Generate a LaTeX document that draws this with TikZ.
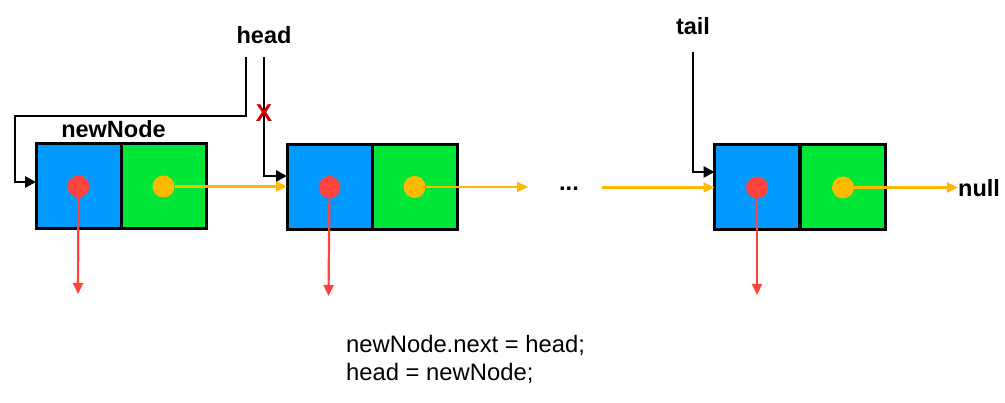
\documentclass[tikz,border=0pt]{standalone}
\usepackage{fontspec}
\setmainfont{Liberation Sans}
\usetikzlibrary{arrows.meta}
\definecolor{cellblue}{RGB}{0,153,255}
\definecolor{cellgreen}{RGB}{0,230,55}
\definecolor{dotred}{RGB}{255,67,62}
\definecolor{dotorange}{RGB}{255,185,0}
\definecolor{xred}{RGB}{204,0,0}
\tikzset{
  bluecell/.style={draw=black, line width=3pt, fill=cellblue, minimum width=85pt, minimum height=85pt, inner sep=0pt, outer sep=0pt},
  greencell/.style={bluecell, fill=cellgreen},
  reddot/.style={circle, fill=dotred, minimum size=22pt, inner sep=0pt, outer sep=0pt},
  orangedot/.style={circle, fill=dotorange, minimum size=22pt, inner sep=0pt, outer sep=0pt},
  redptr/.style={draw=dotred, line width=2.2pt, -{Triangle[length=11pt,width=10pt]}},
  nextptr/.style={draw=dotorange, line width=2.2pt, -{Triangle[length=11pt,width=10pt]}},
  refptr/.style={draw=black, line width=2.8pt, -{Triangle[length=11pt,width=11pt]}},
  boldlabel/.style={font=\fontsize{23.5}{28}\selectfont\bfseries, inner sep=0pt, anchor=base},
  codetext/.style={font=\fontsize{23.8}{28}\selectfont, inner sep=0pt, anchor=base west, align=left}
}
\begin{document}
\begin{tikzpicture}[x=1pt, y=-1pt]
\useasboundingbox (0,0) rectangle (1005,403);

% nodes
\node[bluecell] (n1a) at (78.5,186.5) {};
\node[greencell] (n1b) at (163.5,186.5) {};
\node[bluecell] (n2a) at (329.5,187) {};
\node[greencell] (n2b) at (414.5,187) {};
\node[bluecell] (n3a) at (757,187.5) {};
\node[greencell] (n3b) at (843,187.5) {};

% labels
\node[boldlabel] (head) at (264,43.5) {head};
\node[boldlabel] (tail) at (693,35) {tail};
\node[boldlabel] (newnode) at (113.5,137.5) {newNode};
\node[boldlabel, anchor=base west] (dots) at (559,191) {...};
\node[boldlabel, anchor=base west] (null) at (958,197) {null};
\node[codetext] (code1) at (346,353) {newNode.next = head;};
\node[codetext] (code2) at (346,381) {head = newNode;};

% coordinates
\coordinate (d1) at (78,294);
\coordinate (d2) at (328.5,296);
\coordinate (d3) at (757,295);
\coordinate (e2) at (528,187);
\coordinate (s3) at (602,187.5);
\coordinate (hL) at (246,57);
\coordinate (hk1) at (246,116);
\coordinate (hk2) at (15,182);
\coordinate (hR) at (264,57);
\coordinate (hk3) at (264,176);
\coordinate (tT) at (693,52);
\coordinate (tk) at (693,172);

% pointers down
\draw[redptr] (n1a.center) -- (d1);
\draw[redptr] (n2a.center) -- (d2);
\draw[redptr] (n3a.center) -- (d3);
\node[reddot] (r1) at (n1a.center) {};
\node[reddot] (r2) at (n2a.center) {};
\node[reddot] (r3) at (n3a.center) {};
\node[orangedot] (o1) at (n1b.center) {};
\node[orangedot] (o2) at (n2b.center) {};
\node[orangedot] (o3) at (n3b.center) {};

% next pointers
\draw[nextptr] (o1.east) -- (o1.east -| n2a.west);
\draw[nextptr] (o2.east) -- (e2);
\draw[nextptr] (s3) -- (s3 -| n3a.west);
\draw[nextptr] (o3.east) -- (null.west |- o3.east);

% head / tail references
\draw[refptr] (hL) -- (hk1) -| (hk2) -- (hk2 -| n1a.west);
\draw[refptr] (hR) -- (hk3) -- (hk3 -| n2a.west);
\draw[refptr] (tT) -- (tk) -- (tk -| n3a.west);
\node[boldlabel, text=xred, font=\fontsize{24.5}{28}\selectfont\bfseries] (xmark) at (264,122) {X};
\end{tikzpicture}
\end{document}
